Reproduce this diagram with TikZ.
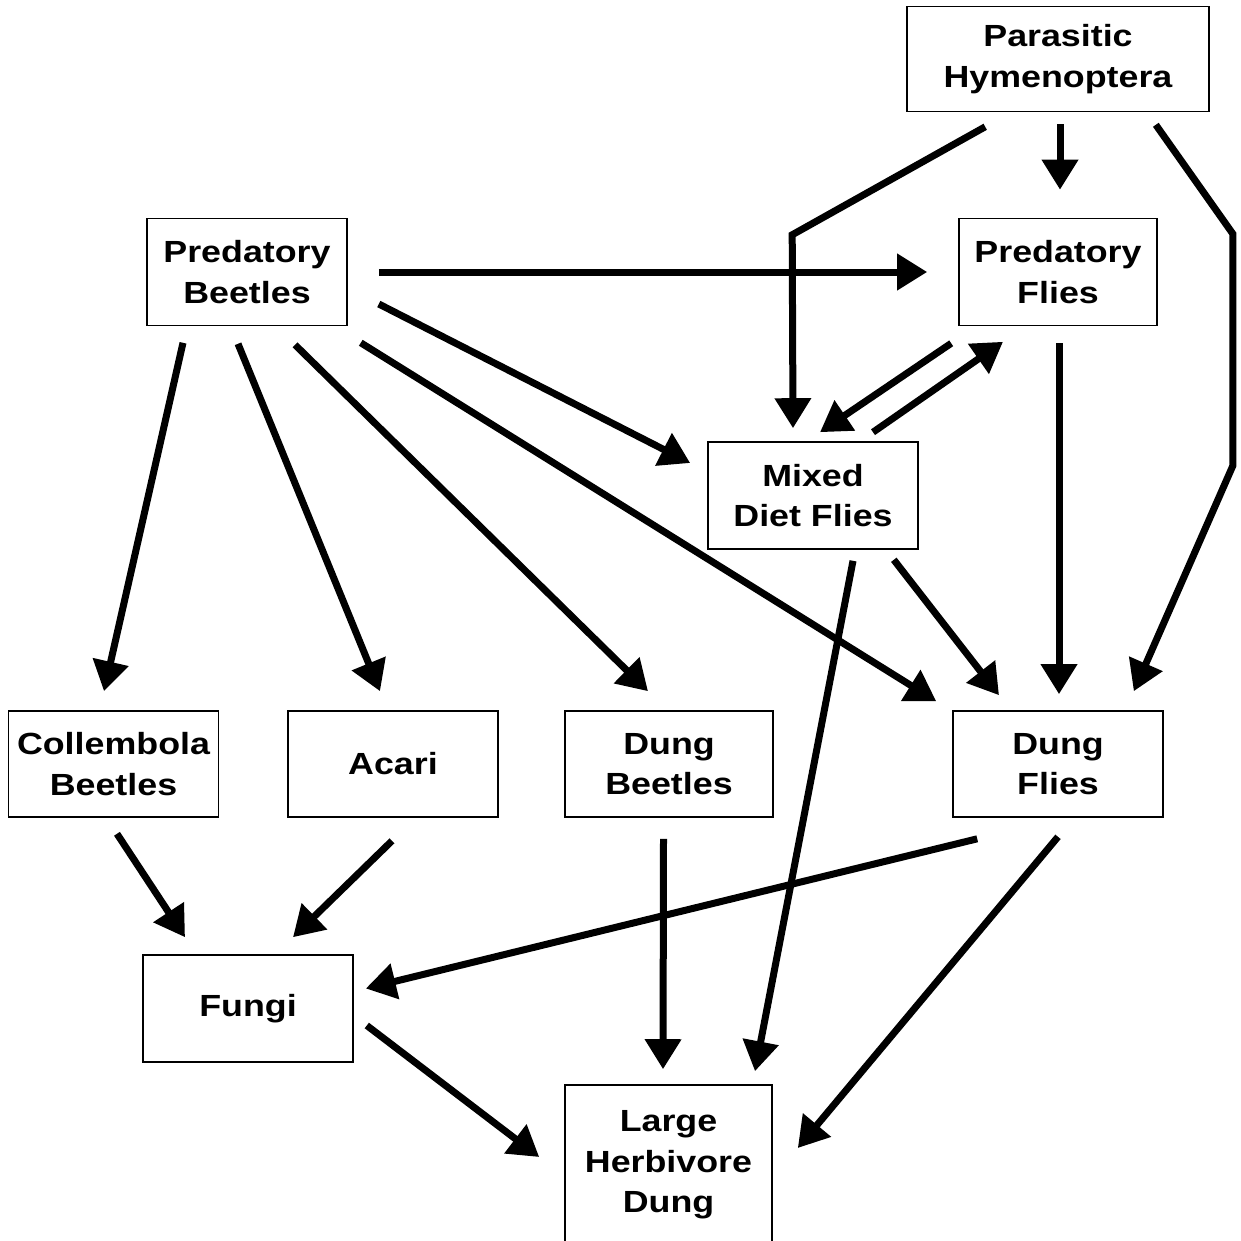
\documentclass[tikz,border=0pt]{standalone}
\usepackage{fontspec}
\setmainfont{Liberation Sans}[FakeStretch=1.17]
\usetikzlibrary{arrows.meta,calc}
\begin{document}
\begin{tikzpicture}[x=0.5pt,y=-0.5pt,
  taxon/.style={draw,line width=0.8pt,align=center,inner sep=0pt,
    minimum width=105pt,minimum height=53.5pt,
    font=\fontsize{15.3}{20.3}\selectfont\bfseries},
  feeds/.style={-{Triangle[length=15pt,width=17.5pt]},line width=3.5pt}]
  \useasboundingbox (0,0) rectangle (1241,1241);

  % Top level
  \node[taxon,minimum width=151pt,minimum height=52.5pt] (hym) at (1058,59) {Parasitic\\Hymenoptera};

  \node[taxon,minimum width=100pt] (pb) at (247,272) {Predatory\\Beetles};
  \node[taxon,minimum width=99pt] (pf) at (1058,272) {Predatory\\Flies};

  \node[taxon] (mdf) at (813,495.5) {Mixed\\Diet Flies};

  % Middle row
  \node[taxon,minimum height=53pt] (col) at (113.5,764) {Collembola\\Beetles};
  \node[taxon,minimum height=53pt] (aca) at (393,764) {Acari};
  \node[taxon,minimum width=104pt,minimum height=53pt] (db) at (669,764) {Dung\\Beetles};
  \node[taxon,minimum height=53pt] (df) at (1058,764) {Dung\\Flies};

  % Bottom
  \node[taxon] (fun) at (248,1008.5) {Fungi};
  \node[taxon,minimum width=103.5pt,minimum height=80pt] (lhd) at (668.5,1165) {Large\\Herbivore\\Dung};

  % Parasitic Hymenoptera
  \draw[feeds] ($(hym.south)+(2,12)$) to ($(pf.north)+(2,-28)$);
  \draw[feeds] ($(hym.south west)+(79,14.5)$) -- ++(-193,108) -- ($(mdf.north)+(-20,-13)$);
  \draw[feeds] ($(hym.south east)+(-54,12.5)$) -- ++(77,109) -- ++(0,232) -- ($(df.north east)+(-30,-19)$);

  % Predatory Beetles
  \draw[feeds] ($(pb.east)+(31,0)$) to ($(pf.west)+(-31,0)$);
  \draw[feeds] ($(pb.east)+(31,32)$) to ($(mdf.west)+(-17,-32.5)$);
  \draw[feeds] ($(pb.south east)+(13,16.5)$) to ($(df.north west)+(-16,-9)$);
  \draw[feeds] ($(pb.south)+(48,18.5)$) to ($(db.north)+(-21,-19)$);
  \draw[feeds] ($(pb.south)+(-9,17.5)$) to ($(aca.north)+(-13,-19)$);
  \draw[feeds] ($(pb.south)+(-64,16.5)$) to ($(col.north)+(-9.5,-19)$);

  % Flies
  \draw[feeds] ($(pf.south west)+(-7,17)$) to ($(mdf.north)+(7,-9)$);
  \draw[feeds] ($(mdf.north)+(60,-9)$) to ($(pf.south)+(-55,15.5)$);
  \draw[feeds] ($(pf.south)+(1,17)$) to ($(df.north)+(1,-16)$);
  \draw[feeds] ($(mdf.south east)+(-25,10)$) to ($(df.north)+(-59,-15)$);
  \draw[feeds] ($(mdf.south)+(40,11)$) to ($(lhd.north)+(86.5,-13)$);

  % To fungi and dung
  \draw[feeds] ($(col.south)+(3.5,16)$) to ($(fun.north)+(-63,-17)$);
  \draw[feeds] ($(aca.south)+(-1,23)$) to ($(fun.north)+(45,-17)$);
  \draw[feeds] ($(db.south)+(-5.5,21)$) to ($(lhd.north)+(-5.5,-15)$);
  \draw[feeds] ($(df.south west)+(25,21)$) to ($(fun.east)+(12,-20)$);
  \draw[feeds] ($(df.south)+(0,19)$) to ($(lhd.east)+(25,-17)$);
  \draw[feeds] ($(fun.east)+(13,17)$) to ($(lhd.west)+(-25,-8)$);
\end{tikzpicture}
\end{document}
